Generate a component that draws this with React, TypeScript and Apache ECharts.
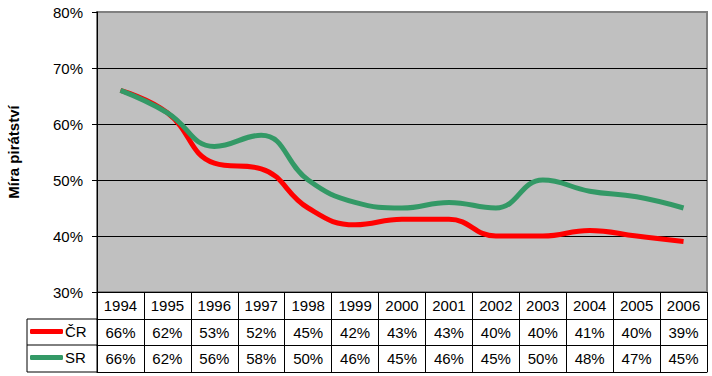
import React, { useEffect, useRef } from "react";
import * as echarts from "echarts";

const years = ["1994", "1995", "1996", "1997", "1998", "1999", "2000", "2001", "2002", "2003", "2004", "2005", "2006"];
const crValues = [66, 62, 53, 52, 45, 42, 43, 43, 40, 40, 41, 40, 39];
const srValues = [66, 62, 56, 58, 50, 46, 45, 46, 45, 50, 48, 47, 45];
const seriesNames = ["ČR", "SR"];
const yMin = 30;
const yMax = 80;
const yInterval = 10;
const yTitle = "Míra pirátství";

const FONT = "'Liberation Sans', Arial, sans-serif";
const RED = "#FF0000";
const GREEN = "#339966";

export default function App() {
  const ref = useRef<HTMLDivElement>(null);
  useEffect(() => {
    if (!ref.current) return;
    const chart = echarts.init(ref.current, null, { renderer: "svg" });
    const left = 97;
    const right = 5;
    const top = 12;
    const rowH = [27, 26, 27];
    const bottom = 376 - 292;
    const tableTop = 292;
    const textStyle = { color: "#000", fontFamily: FONT, fontSize: 15 };

    const mkRowAxis = (data: string[], offset: number, tickLen: number, margin: number) => ({
      type: "category",
      data,
      position: "bottom",
      offset,
      boundaryGap: true,
      axisLine: { show: true, lineStyle: { color: "#000", width: 1 } },
      axisTick: { show: true, length: tickLen, lineStyle: { color: "#000", width: 1 } },
      axisLabel: { show: true, interval: 0, margin, ...textStyle },
      splitLine: { show: false },
    });

    const y1 = tableTop + rowH[0];
    const y2 = y1 + rowH[1];
    const y3 = y2 + rowH[2];

    chart.setOption({
      animation: false,
      backgroundColor: "#fff",
      textStyle: { fontFamily: FONT },
      grid: {
        left,
        right,
        top,
        bottom,
        show: true,
        backgroundColor: "#C0C0C0",
        borderColor: "#808080",
        borderWidth: 2,
        containLabel: false,
        outerBoundsMode: "none",
      },
      legend: [
        {
          data: [seriesNames[0]],
          left: 30,
          top: y1 + 5,
          padding: 0,
          icon: "roundRect",
          itemWidth: 33,
          itemHeight: 5,
          itemGap: 0,
          textStyle: { ...textStyle, padding: [0, 0, 0, -3] },
        },
        {
          data: [seriesNames[1]],
          left: 30,
          top: y2 + 5,
          padding: 0,
          icon: "roundRect",
          itemWidth: 33,
          itemHeight: 5,
          itemGap: 0,
          textStyle: { ...textStyle, padding: [0, 0, 0, -3] },
        },
      ],
      xAxis: [
        mkRowAxis(years, 0, rowH[0], 6),
        mkRowAxis(crValues.map((v) => v + "%"), rowH[0], rowH[1], 6),
        mkRowAxis(srValues.map((v) => v + "%"), rowH[0] + rowH[1], rowH[2], 6),
        {
          type: "category",
          data: years,
          position: "bottom",
          offset: rowH[0] + rowH[1] + rowH[2],
          axisLine: { show: true, lineStyle: { color: "#000", width: 1 } },
          axisTick: { show: false },
          axisLabel: { show: false },
        },
      ],
      yAxis: {
        type: "value",
        min: yMin,
        max: yMax,
        interval: yInterval,
        axisLine: { show: true, lineStyle: { color: "#000", width: 1 } },
        axisTick: { show: true, length: 5, lineStyle: { color: "#000" } },
        axisLabel: { margin: 14, formatter: "{value}%", ...textStyle },
        splitLine: {
          show: true,
          lineStyle: { color: ["#000", "#000", "#000", "#000", "#000", "#808080"], width: 1 },
        },
      },
      series: [
        {
          name: seriesNames[0],
          type: "line",
          data: crValues,
          smooth: 0.45,
          symbol: "none",
          color: RED,
          lineStyle: { color: RED, width: 5 },
          xAxisIndex: 0,
          yAxisIndex: 0,
        },
        {
          name: seriesNames[1],
          type: "line",
          data: srValues,
          smooth: 0.45,
          symbol: "none",
          color: GREEN,
          lineStyle: { color: GREEN, width: 5 },
          xAxisIndex: 0,
          yAxisIndex: 0,
        },
      ],
      graphic: [
        {
          type: "text",
          x: 13,
          y: (top + tableTop) / 2,
          rotation: Math.PI / 2,
          style: {
            text: yTitle,
            fill: "#000",
            font: `bold 15px ${FONT}`,
            align: "center",
            verticalAlign: "middle",
          },
        },
        { type: "line", shape: { x1: 27, y1: y1, x2: left, y2: y1 }, style: { stroke: "#000", lineWidth: 1 } },
        { type: "line", shape: { x1: 27, y1: y2, x2: left, y2: y2 }, style: { stroke: "#000", lineWidth: 1 } },
        { type: "line", shape: { x1: 27, y1: y3, x2: left, y2: y3 }, style: { stroke: "#000", lineWidth: 1 } },
        { type: "line", shape: { x1: 27, y1: y1, x2: 27, y2: y3 }, style: { stroke: "#000", lineWidth: 1 } },
        { type: "line", shape: { x1: left, y1: tableTop, x2: left, y2: y3 }, style: { stroke: "#000", lineWidth: 1 } },
      ],
    });
    return () => chart.dispose();
  }, []);
  return (
    <div
      ref={ref}
      style={{ position: "fixed", left: 0, top: 0, width: 712, height: 376 }}
    />
  );
}
